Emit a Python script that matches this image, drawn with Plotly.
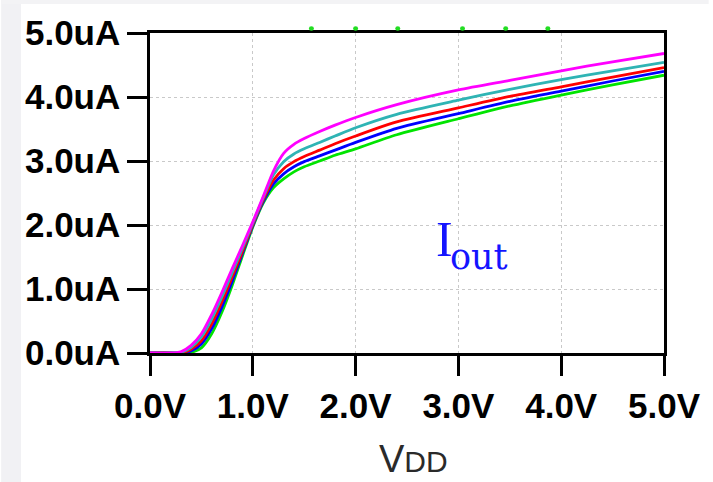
import plotly.graph_objects as go

# Supply sweep (V) and output current (uA) for the five stepped runs
vdd = [0, 0.2, 0.3, 0.4, 0.5, 0.6, 0.7, 0.8, 0.9, 1.0, 1.1, 1.2, 1.3, 1.4, 1.5,
       1.65, 1.8, 2.0, 2.4, 3.0, 3.5, 4.0, 4.5, 5.0]

iout_green = [0, 0, 0, 0.01, 0.08, 0.30, 0.64, 1.06, 1.52, 1.97, 2.34, 2.58, 2.72, 2.83,
              2.91, 3.00, 3.09, 3.19, 3.41, 3.66, 3.86, 4.03, 4.19, 4.34]
iout_blue = [0, 0, 0, 0.03, 0.14, 0.38, 0.72, 1.12, 1.56, 1.99, 2.36, 2.64, 2.80, 2.91,
             2.99, 3.08, 3.17, 3.29, 3.51, 3.74, 3.93, 4.09, 4.25, 4.40]
iout_red = [0, 0, 0, 0.06, 0.19, 0.45, 0.80, 1.19, 1.59, 2.01, 2.39, 2.70, 2.88, 2.99,
            3.07, 3.17, 3.27, 3.39, 3.61, 3.83, 4.01, 4.16, 4.31, 4.46]
iout_cyan = [0, 0, 0.01, 0.09, 0.25, 0.53, 0.88, 1.26, 1.64, 2.03, 2.42, 2.78, 2.99, 3.11,
             3.19, 3.29, 3.39, 3.52, 3.73, 3.95, 4.12, 4.27, 4.41, 4.54]
iout_magenta = [0, 0, 0.02, 0.12, 0.30, 0.60, 0.95, 1.32, 1.68, 2.05, 2.44, 2.84, 3.12, 3.26,
                3.35, 3.46, 3.56, 3.68, 3.88, 4.11, 4.26, 4.41, 4.55, 4.68]

series = [
    ("#00e400", iout_green),
    ("#0000ff", iout_blue),
    ("#ff0000", iout_red),
    ("#2fb4b4", iout_cyan),
    ("#ff00ff", iout_magenta),
]

# Step indicator dots just above the frame (V positions, uA level)
step_dot_v = [1.57, 2.0, 2.41, 3.04, 3.46, 3.87]
step_dot_level = 5.07

x_ticks = [0, 1, 2, 3, 4, 5]
x_tick_text = ["0.0V", "1.0V", "2.0V", "3.0V", "4.0V", "5.0V"]
y_ticks = [0, 1, 2, 3, 4, 5]
y_tick_text = ["0.0uA", "1.0uA", "2.0uA", "3.0uA", "4.0uA", "5.0uA"]
y_range = [0, 5]

fig = go.Figure()
for color, values in series:
    fig.add_trace(go.Scatter(
        x=vdd, y=values, mode="lines",
        line=dict(color=color, width=2.8, shape="spline", smoothing=0.7),
        showlegend=False, hoverinfo="skip",
    ))

axis_common = dict(
    showline=True, linecolor="black", linewidth=2.5, mirror=True,
    ticks="outside", ticklen=20, tickwidth=2.5, tickcolor="black",
    showgrid=True, gridcolor="#c9c9c9", gridwidth=1.2, griddash="dot",
    zeroline=False,
    tickfont=dict(family="Liberation Sans", size=35, color="black", weight="bold"),
)

fig.update_xaxes(range=[0, 5], tickvals=x_ticks, ticktext=x_tick_text, **axis_common)
fig.update_yaxes(range=y_range, tickvals=y_ticks, ticktext=y_tick_text, **axis_common)

# Curve label: I with subscript "out"
fig.add_annotation(
    x=2.76, y=1.78, xref="x", yref="y", xanchor="left", yanchor="middle",
    text="I", showarrow=False,
    font=dict(family="Liberation Serif", size=50, color="#1414ff"),
)
fig.add_annotation(
    x=2.90, y=1.50, xref="x", yref="y", xanchor="left", yanchor="middle",
    text="out", showarrow=False,
    font=dict(family="DejaVu Serif", size=35, color="#1414ff"),
)

fig.add_annotation(
    x=0.512, y=-0.33, xref="paper", yref="paper",
    text="V<span style='font-size:30px'>DD</span>", showarrow=False,
    font=dict(family="Liberation Sans", size=38, color="#2a2a2a"),
    yanchor="middle", borderpad=0,
)

shapes = [
    dict(type="rect", xref="paper", yref="paper",
         x0=-150 / 518, x1=-130 / 518, y0=-129 / 320, y1=353 / 320,
         fillcolor="#f1f1f4", line=dict(width=0), layer="below"),
    dict(type="rect", xref="paper", yref="paper",
         x0=-150 / 518, x1=563 / 518, y0=349 / 320, y1=353 / 320,
         fillcolor="#f3f3f5", line=dict(width=0), layer="below"),
]
# Dots sit outside the y range, so anchor them vertically in paper space
dot_paper_y = (step_dot_level - y_range[0]) / (y_range[1] - y_range[0])
for v in step_dot_v:
    shapes.append(dict(
        type="circle", xref="x", yref="paper",
        xsizemode="pixel", xanchor=v, x0=-2.5, x1=2.5,
        ysizemode="pixel", yanchor=dot_paper_y, y0=-2.2, y1=2.2,
        fillcolor="#22dd22", line=dict(width=0),
    ))

fig.update_layout(
    width=713, height=482,
    margin=dict(l=150, r=45, t=33, b=129),
    paper_bgcolor="white", plot_bgcolor="white",
    shapes=shapes,
)

fig.write_html("out.html")
